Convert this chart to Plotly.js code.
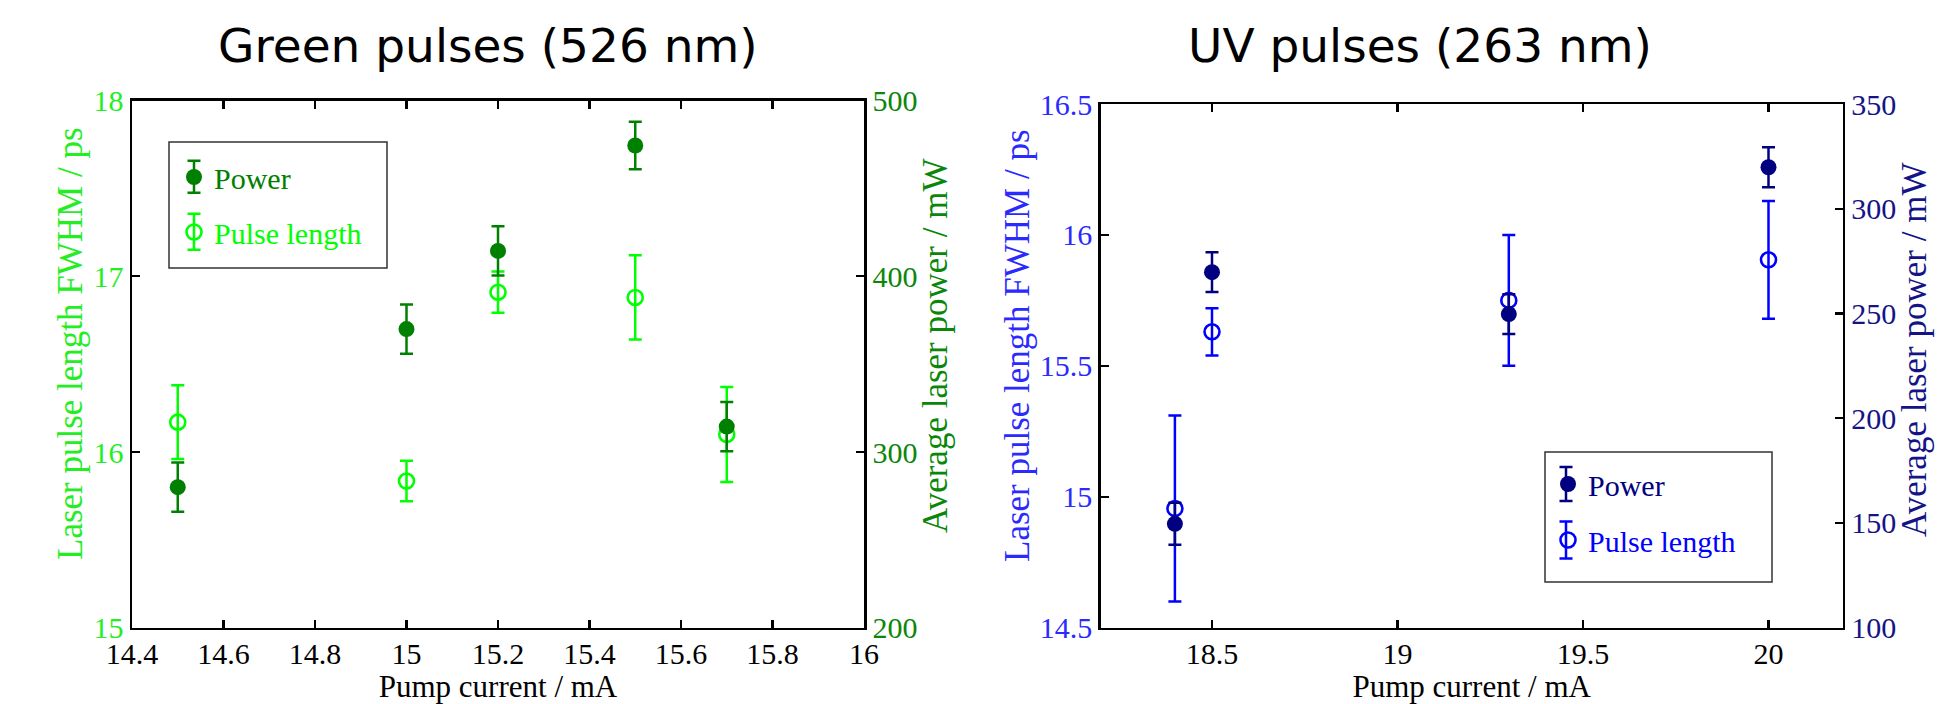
<!DOCTYPE html>
<html><head><meta charset="utf-8">
<script src="https://cdn.plot.ly/plotly-3.0.1.min.js"></script>
<style>html,body{margin:0;padding:0;background:#fff;}#chart{width:1943px;height:704px;}</style>
</head><body><div id="chart"></div>
<script>
// ---- Green pulses (526 nm) ----
const greenCurrent = [14.5, 15.0, 15.2, 15.5, 15.7];
const greenPulse = [16.17, 15.835, 16.91, 16.88, 16.10];
const greenPulseErr = [0.21, 0.115, 0.117, 0.24, 0.27];
const greenPower = [280, 370, 414.5, 474.5, 314.5];
const greenPowerErr = [14, 14, 14, 13.5, 14];
// ---- UV pulses (263 nm) ----
const uvCurrent = [18.4, 18.5, 19.3, 20.0];
const uvPulse = [14.955, 15.63, 15.75, 15.905];
const uvPulseErr = [0.355, 0.09, 0.25, 0.225];
const uvPower = [149.6, 269.7, 249.7, 319.8];
const uvPowerErr = [10, 9.5, 9.5, 9.5];
// ---- texts ----
const titleGreen = 'Green pulses (526 nm)';
const titleUV = 'UV pulses (263 nm)';
const xTitle = 'Pump current / mA';
const yLeftTitle = 'Laser pulse length FWHM / ps';
const yRightTitle = 'Average laser power / mW';
const namePower = 'Power', namePulse = 'Pulse length';

const W = 1943, H = 704;
const px = v => v / W, py = v => 1 - v / H;

const C = {
  gPower: '#008000', gPulse: '#00ff00', gPowerTick: '#0a870a', gPulseTick: '#22ee22',
  uPower: '#000080', uPulse: '#0000ff', uPowerTick: '#141486', uPulseTick: '#2a2aff'
};
const serif = 'Liberation Serif, Times New Roman, serif';

function axisBase() {
  return {showline: true, linecolor: '#000', linewidth: 2.5, ticks: 'inside', ticklen: 8,
    tickwidth: 2.2, tickcolor: '#000', showgrid: false, zeroline: false,
    tickfont: {family: serif, size: 30}};
}
function mk(x, y, err, yaxis, xaxis, color, open, name, rank, legend) {
  return {
    type: 'scatter', mode: 'markers', x: x, y: y, xaxis: xaxis, yaxis: yaxis,
    name: '<span style="color:' + color + '">' + name + '</span>',
    legend: legend, legendgroup: legend + name, legendrank: rank,
    error_y: {type: 'data', array: err, visible: true, color: color, thickness: 2.5, width: 6.5},
    marker: open ? {symbol: 'circle-open', size: 15, color: color, line: {width: 2.6, color: color}}
                 : {symbol: 'circle', size: 16, color: color},
    hoverinfo: 'skip'
  };
}

const data = [
  mk(greenCurrent, greenPulse, greenPulseErr, 'y', 'x', C.gPulse, true, namePulse, 2, 'legend'),
  mk(greenCurrent, greenPower, greenPowerErr, 'y2', 'x', C.gPower, false, namePower, 1, 'legend'),
  mk(uvCurrent, uvPulse, uvPulseErr, 'y3', 'x2', C.uPulse, true, namePulse, 2, 'legend2'),
  mk(uvCurrent, uvPower, uvPowerErr, 'y4', 'x2', C.uPower, false, namePower, 1, 'legend2')
];

const xt = (t) => ({text: t, font: {family: serif, size: 31, color: '#000'}, standoff: 8});

// legend error-bar glyphs (legend decoration, pixel positions of legend symbols)
function legendBar(x, yc, half, color) {
  const X = v => px(v), Y = v => py(v);
  const y0 = yc - half, y1 = yc + half, hw = 6.5;
  return {type: 'path', xref: 'paper', yref: 'paper', layer: 'above',
    path: 'M' + X(x) + ',' + Y(y0) + 'L' + X(x) + ',' + Y(y1) +
          'M' + X(x - hw) + ',' + Y(y0) + 'L' + X(x + hw) + ',' + Y(y0) +
          'M' + X(x - hw) + ',' + Y(y1) + 'L' + X(x + hw) + ',' + Y(y1),
    line: {color: color, width: 2.5}};
}
function yTitle(text, x, y, color) {
  return {text: text, xref: 'paper', yref: 'paper', x: px(x), y: py(y), showarrow: false, textangle: -90,
    xanchor: 'center', yanchor: 'middle', font: {family: serif, size: 35, color: color}};
}

const layout = {
  width: W, height: H, margin: {l: 0, r: 0, t: 0, b: 0},
  paper_bgcolor: '#fff', plot_bgcolor: '#fff', showlegend: true,
  xaxis: Object.assign(axisBase(), {domain: [px(132), px(864)], range: [14.4, 16], tick0: 14.4, dtick: 0.2,
    anchor: 'y', mirror: 'ticks', tickfont: {family: serif, size: 30, color: '#000'}, ticklabelstandoff: -2, title: xt(xTitle)}),
  yaxis: Object.assign(axisBase(), {domain: [py(627.7), py(100.7)], range: [15, 18], dtick: 1, anchor: 'x',
    tickfont: {family: serif, size: 30, color: C.gPulseTick}}),
  yaxis2: Object.assign(axisBase(), {overlaying: 'y', side: 'right', anchor: 'x', range: [200, 500], dtick: 100,
    tickfont: {family: serif, size: 30, color: C.gPowerTick}}),
  xaxis2: Object.assign(axisBase(), {domain: [px(1100.7), px(1842.7)], range: [18.2, 20.2], tick0: 18.5, dtick: 0.5,
    anchor: 'y3', mirror: 'ticks', tickfont: {family: serif, size: 30, color: '#000'}, ticklabelstandoff: -2, title: xt(xTitle)}),
  yaxis3: Object.assign(axisBase(), {domain: [py(627.7), py(104)], range: [14.5, 16.5], dtick: 0.5, anchor: 'x2',
    tickfont: {family: serif, size: 30, color: C.uPulseTick}}),
  yaxis4: Object.assign(axisBase(), {overlaying: 'y3', side: 'right', anchor: 'x2', range: [100, 350], dtick: 50,
    tickfont: {family: serif, size: 30, color: C.uPowerTick}}),
  legend: {x: px(174), y: py(151), xanchor: 'left', yanchor: 'top', borderwidth: 0, bgcolor: 'rgba(0,0,0,0)',
    font: {family: serif, size: 30, color: '#000'}, traceorder: 'grouped', tracegroupgap: 13},
  legend2: {x: px(1548), y: py(458), xanchor: 'left', yanchor: 'top', borderwidth: 0, bgcolor: 'rgba(0,0,0,0)',
    font: {family: serif, size: 30, color: '#000'}, traceorder: 'grouped', tracegroupgap: 14},
  shapes: [
    {type: 'rect', xref: 'paper', yref: 'paper', x0: px(169), x1: px(387), y0: py(268), y1: py(142),
      line: {color: '#333', width: 1.5}, fillcolor: 'rgba(0,0,0,0)', layer: 'below'},
    {type: 'rect', xref: 'paper', yref: 'paper', x0: px(1545), x1: px(1772), y0: py(582), y1: py(452),
      line: {color: '#333', width: 1.5}, fillcolor: 'rgba(0,0,0,0)', layer: 'below'},
    legendBar(194, 176.7, 16, C.gPower),
    legendBar(194, 231.7, 18, C.gPulse),
    legendBar(1566, 484, 17, C.uPower),
    legendBar(1566, 540, 18.5, C.uPulse)
  ],
  annotations: [
    {text: titleGreen, xref: 'paper', yref: 'paper', x: px(488), y: py(46), showarrow: false,
      xanchor: 'center', yanchor: 'middle', font: {family: 'DejaVu Sans', size: 47, color: '#000'}},
    {text: titleUV, xref: 'paper', yref: 'paper', x: px(1420), y: py(46), showarrow: false,
      xanchor: 'center', yanchor: 'middle', font: {family: 'DejaVu Sans', size: 47, color: '#000'}},
    yTitle(yLeftTitle, 70, 344, C.gPulseTick),
    yTitle(yRightTitle, 935, 346, C.gPowerTick),
    yTitle(yLeftTitle, 1017, 346, C.uPulseTick),
    yTitle(yRightTitle, 1915, 350, C.uPowerTick)
  ]
};

Plotly.newPlot('chart', data, layout, {displayModeBar: false, staticPlot: true});
</script>
</body></html>
